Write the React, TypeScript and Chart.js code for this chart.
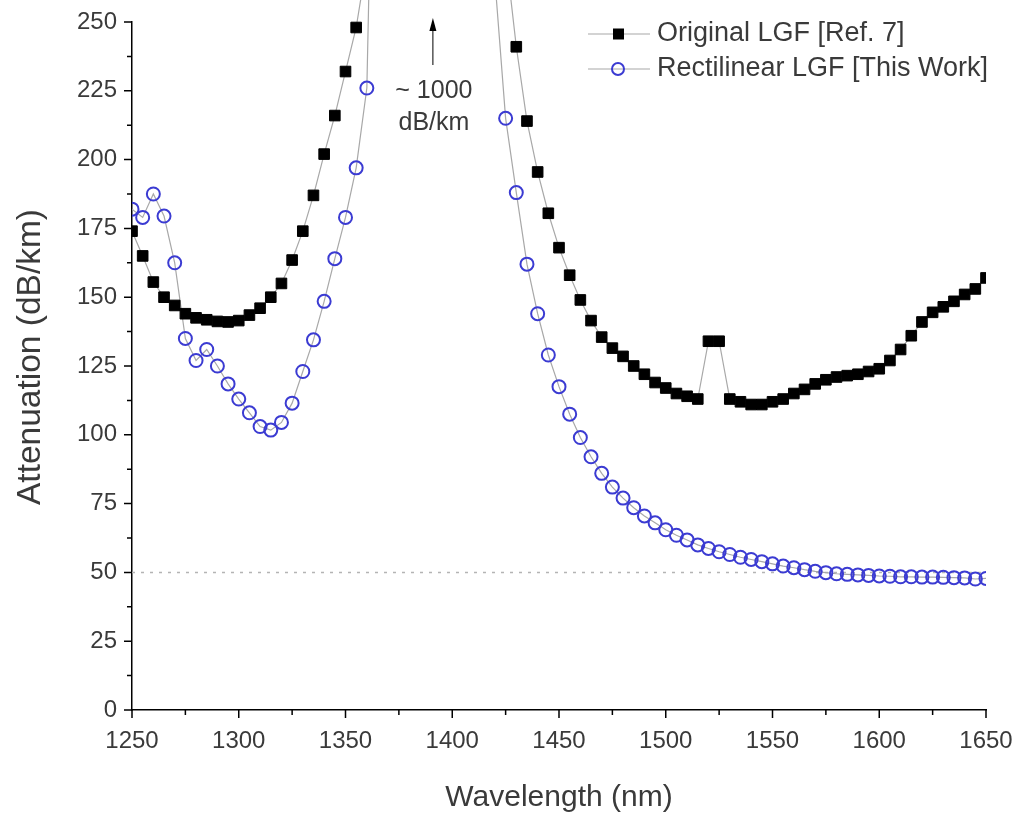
import React, { useEffect, useRef } from 'react';
import { Chart, registerables } from 'chart.js';

Chart.register(...registerables);

// Original LGF [Ref. 7] (black squares); 1360/1390/1425 are off-scale (~1000 dB/km peak)
const origWavelength = [
  1250, 1255, 1260, 1265, 1270, 1275, 1280, 1285, 1290, 1295, 1300, 1305, 1310, 1315, 1320, 1325,
  1330, 1335, 1340, 1345, 1350, 1355, 1360, 1390, 1425, 1430, 1435, 1440, 1445, 1450, 1455, 1460,
  1465, 1470, 1475, 1480, 1485, 1490, 1495, 1500, 1505, 1510, 1515, 1520, 1525, 1530, 1535, 1540,
  1545, 1550, 1555, 1560, 1565, 1570, 1575, 1580, 1585, 1590, 1595, 1600, 1605, 1610, 1615, 1620,
  1625, 1630, 1635, 1640, 1645, 1650,
];
const origAttenuation = [
  174, 165, 155.5, 150, 147, 144, 142.5, 141.8, 141.2, 141, 141.5, 143.5, 146, 150, 155, 163.5,
  174, 187, 202, 216, 232, 248, 272, 1000, 275, 241, 214, 195.5, 180.5, 168, 158, 149,
  141.5, 135.5, 131.5, 128.5, 125, 122, 119, 117, 115, 114, 113, 134, 134, 113, 112, 111,
  111, 112, 113, 115, 116.5, 118.5, 120, 121, 121.5, 122, 123, 124, 127, 131, 136, 141,
  144.5, 146.5, 148.5, 151, 153, 157,
];

// Rectilinear LGF [This Work] (open blue circles); 1365/1390/1420 are off-scale
const rectWavelength = [
  1250, 1255, 1260, 1265, 1270, 1275, 1280, 1285, 1290, 1295, 1300, 1305, 1310, 1315, 1320, 1325,
  1330, 1335, 1340, 1345, 1350, 1355, 1360, 1365, 1390, 1420, 1425, 1430, 1435, 1440, 1445, 1450,
  1455, 1460, 1465, 1470, 1475, 1480, 1485, 1490, 1495, 1500, 1505, 1510, 1515, 1520, 1525, 1530,
  1535, 1540, 1545, 1550, 1555, 1560, 1565, 1570, 1575, 1580, 1585, 1590, 1595, 1600, 1605, 1610,
  1615, 1620, 1625, 1630, 1635, 1640, 1645, 1650,
];
const rectAttenuation = [
  182, 179, 187.5, 179.5, 162.5, 135, 127, 131, 125, 118.5, 113, 108, 103, 101.7, 104.5, 111.5,
  123, 134.5, 148.5, 164, 179, 197, 226, 410, 1000, 265, 215, 188, 162, 144, 129, 117.5,
  107.5, 99, 92, 86, 81, 77, 73.5, 70.5, 68, 65.5, 63.5, 61.8, 60, 58.7, 57.5, 56.5,
  55.5, 54.7, 53.9, 53.1, 52.3, 51.7, 51, 50.4, 49.9, 49.5, 49.3, 49.1, 48.9, 48.7, 48.6, 48.4,
  48.4, 48.3, 48.3, 48.2, 48.1, 48, 47.6, 47.8,
];

// Dotted reference level
const refWavelength = [1250, 1650];
const refAttenuation = [50, 50];

const xMin = 1250;
const xMax = 1650;
const xMajorStep = 50;
const xMinorStep = 25;
const yMin = 0;
const yMax = 250;
const yMajorStep = 25;
const yMinorStep = 12.5;

const xTitle = 'Wavelength (nm)';
const yTitle = 'Attenuation (dB/km)';
const legendLabels = ['Original LGF [Ref. 7]', 'Rectilinear LGF [This Work]'];
const annotationWavelength = 1390;
const annotationLines = ['~ 1000', 'dB/km'];

const FONT = '"Liberation Sans", Arial, sans-serif';
const TEXT = '#3a3a3a';
const BLUE = '#3b3bd2';
const LINE = '#a8a8a8';

const toXY = (xs: number[], ys: number[]) => xs.map((x, i) => ({ x, y: ys[i] }));

const ticksPlugin = {
  id: 'axisTicks',
  afterDraw(chart: any) {
    const { ctx } = chart;
    const xs = chart.scales.x;
    const ys = chart.scales.y;
    ctx.save();
    ctx.strokeStyle = '#000';
    ctx.lineWidth = 1.5;
    ctx.beginPath();
    xs.ticks.forEach((t: any) => {
      const px = xs.getPixelForValue(t.value);
      const len = t.value % xMajorStep === 0 ? 8 : 5;
      ctx.moveTo(px, xs.top);
      ctx.lineTo(px, xs.top + len);
    });
    ys.ticks.forEach((t: any) => {
      const py = ys.getPixelForValue(t.value);
      const len = t.value % yMajorStep === 0 ? 8 : 5;
      ctx.moveTo(ys.right, py);
      ctx.lineTo(ys.right - len, py);
    });
    ctx.stroke();
    // rotated y-axis title
    const ca = chart.chartArea;
    ctx.translate(31, (ca.top + ca.bottom) / 2 - 9);
    ctx.rotate(-Math.PI / 2);
    ctx.fillStyle = TEXT;
    ctx.font = `33.5px ${FONT}`;
    ctx.textAlign = 'center';
    ctx.textBaseline = 'middle';
    ctx.fillText(yTitle, 0, 0);
    ctx.restore();
  },
};

const legendPlugin = {
  id: 'customLegend',
  afterDraw(chart: any) {
    const { ctx } = chart;
    const rows = [34, 69];
    ctx.save();
    rows.forEach((y, i) => {
      ctx.strokeStyle = LINE;
      ctx.lineWidth = 1.2;
      ctx.beginPath();
      ctx.moveTo(588, y);
      ctx.lineTo(650, y);
      ctx.stroke();
      if (i === 0) {
        ctx.fillStyle = '#000';
        ctx.fillRect(613, y - 5.5, 11, 11);
      } else {
        ctx.strokeStyle = BLUE;
        ctx.lineWidth = 2;
        ctx.beginPath();
        ctx.arc(618, y, 6, 0, Math.PI * 2);
        ctx.stroke();
      }
      ctx.fillStyle = TEXT;
      ctx.font = `27px ${FONT}`;
      ctx.textAlign = 'left';
      ctx.textBaseline = 'middle';
      ctx.fillText(legendLabels[i], 657, y);
    });
    ctx.restore();
  },
};

const annotationPlugin = {
  id: 'peakAnnotation',
  afterDraw(chart: any) {
    const { ctx } = chart;
    const px = chart.scales.x.getPixelForValue(annotationWavelength) + 2;
    ctx.save();
    ctx.strokeStyle = '#000';
    ctx.fillStyle = '#000';
    ctx.lineWidth = 1;
    ctx.beginPath();
    ctx.moveTo(px, 65);
    ctx.lineTo(px, 28);
    ctx.stroke();
    ctx.beginPath();
    ctx.moveTo(px, 18);
    ctx.lineTo(px - 3.5, 31);
    ctx.lineTo(px + 3.5, 31);
    ctx.closePath();
    ctx.fill();
    ctx.fillStyle = TEXT;
    ctx.font = `25px ${FONT}`;
    ctx.textAlign = 'center';
    ctx.textBaseline = 'middle';
    ctx.fillText(annotationLines[0], px + 1, 91);
    ctx.fillText(annotationLines[1], px + 1, 123);
    ctx.restore();
  },
};

export default function App() {
  const canvasRef = useRef<HTMLCanvasElement | null>(null);

  useEffect(() => {
    if (!canvasRef.current) return;
    const clip = { left: 0, top: 22, right: 0, bottom: 0 };
    const chart = new Chart(canvasRef.current, {
      type: 'line',
      data: {
        datasets: [
          {
            label: legendLabels[0],
            data: toXY(origWavelength, origAttenuation),
            borderColor: LINE,
            borderWidth: 1.2,
            pointStyle: 'rect',
            pointRadius: 7.5,
            pointBackgroundColor: '#000',
            pointBorderColor: '#000',
            pointBorderWidth: 1,
            tension: 0,
            fill: false,
            clip,
          } as any,
          {
            label: legendLabels[1],
            data: toXY(rectWavelength, rectAttenuation),
            borderColor: LINE,
            borderWidth: 1.2,
            pointStyle: 'circle',
            pointRadius: 6.5,
            pointBackgroundColor: 'rgba(255,255,255,0)',
            pointBorderColor: BLUE,
            pointBorderWidth: 2,
            tension: 0,
            fill: false,
            clip,
          } as any,
          {
            label: 'ref',
            data: toXY(refWavelength, refAttenuation),
            borderColor: '#b4b4b4',
            borderWidth: 1.5,
            borderDash: [3, 6],
            pointRadius: 0,
            fill: false,
            clip,
          } as any,
        ],
      },
      options: {
        responsive: false,
        animation: false,
        devicePixelRatio: 1,
        events: [],
        layout: { padding: { top: 22, right: 33, left: 0, bottom: 0 } },
        plugins: {
          legend: { display: false },
          tooltip: { enabled: false },
        },
        scales: {
          x: {
            type: 'linear',
            min: xMin,
            max: xMax,
            afterFit: (scale: any) => {
              scale.height = 108;
              scale.paddingLeft = 0;
              scale.paddingRight = 0;
            },
            grid: { display: false, drawTicks: false },
            border: { display: true, color: '#000', width: 1.5 },
            ticks: {
              stepSize: xMinorStep,
              autoSkip: false,
              maxRotation: 0,
              padding: 17,
              color: TEXT,
              font: { family: FONT, size: 24 },
              callback: (v: any) => (Number(v) % xMajorStep === 0 ? String(v) : ''),
            },
            title: {
              display: true,
              text: xTitle,
              color: TEXT,
              font: { family: FONT, size: 30 },
              padding: { top: 0, bottom: 2 },
            },
          },
          y: {
            type: 'linear',
            min: yMin,
            max: yMax,
            afterFit: (scale: any) => {
              scale.width = 132;
              scale.paddingTop = 0;
              scale.paddingBottom = 0;
            },
            grid: { display: false, drawTicks: false },
            border: { display: true, color: '#000', width: 1.5 },
            ticks: {
              stepSize: yMinorStep,
              autoSkip: false,
              padding: 15,
              color: TEXT,
              font: { family: FONT, size: 24 },
              callback: (v: any) => (Number(v) % yMajorStep === 0 ? String(v) : ''),
            },
            title: { display: false },
          },
        },
      } as any,
      plugins: [ticksPlugin, legendPlugin, annotationPlugin],
    });
    return () => chart.destroy();
  }, []);

  return (
    <div style={{ position: 'fixed', left: 0, top: 0, width: 1019, height: 818, background: '#fff' }}>
      <canvas ref={canvasRef} width={1019} height={818} style={{ display: 'block' }} />
    </div>
  );
}
